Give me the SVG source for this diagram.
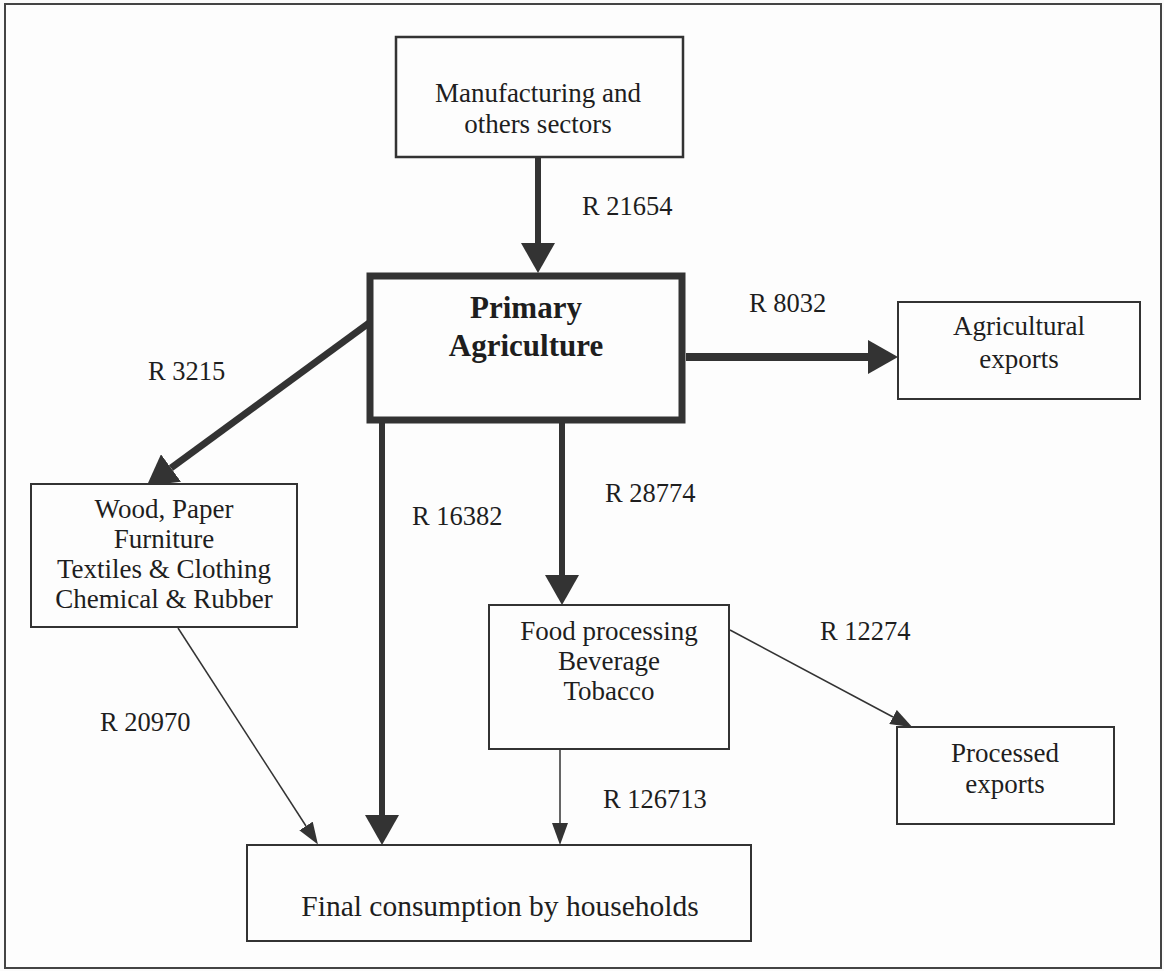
<svg xmlns="http://www.w3.org/2000/svg" width="1164" height="971" viewBox="0 0 1164 971">
<style>
.box{fill:#fdfdfd;stroke:#333;stroke-width:2}
.t{font-family:"Liberation Serif","Times New Roman",serif;font-size:27px;fill:#1e1e1e;text-anchor:middle}
.lbl{font-family:"Liberation Serif","Times New Roman",serif;font-size:26.5px;fill:#1e1e1e}
.thick{stroke:#333;fill:none}
.thin{stroke:#333;stroke-width:1.5;fill:none}
</style>
<defs>
<marker id="big" viewBox="0 -17 30 34" refX="0" refY="0" markerWidth="30" markerHeight="34" markerUnits="userSpaceOnUse" orient="auto"><path d="M0,-17 L30,0 L0,17 z" fill="#333"/></marker>
<marker id="small" viewBox="0 -8 22 16" refX="0" refY="0" markerWidth="22" markerHeight="16" markerUnits="userSpaceOnUse" orient="auto"><path d="M0,-8 L22,0 L0,8 z" fill="#333"/></marker>
</defs>
<rect x="0" y="0" width="1164" height="971" fill="#fbfbfb"/>
<rect x="5" y="4" width="1156" height="964" fill="#fdfdfd" stroke="#444" stroke-width="2"/>
<g id="connectors">
<path class="thick" stroke-width="6" d="M538,157 L538,243" marker-end="url(#big)"/>
<path class="thick" stroke-width="8" d="M686,357 L868,357" marker-end="url(#big)"/>
<path class="thick" stroke-width="7" d="M369,323 L171,468" marker-end="url(#big)"/>
<path class="thick" stroke-width="6" d="M382,423 L382,815" marker-end="url(#big)"/>
<path class="thick" stroke-width="6" d="M562,423 L562,575" marker-end="url(#big)"/>
<path class="thin" d="M178,628 L306,826" marker-end="url(#small)"/>
<path class="thin" d="M730,630 L893,717" marker-end="url(#small)"/>
<path class="thin" d="M560,749 L560,823" marker-end="url(#small)"/>
<text class="lbl" x="582" y="215">R 21654</text>
<text class="lbl" x="749" y="312">R 8032</text>
<text class="lbl" x="148" y="380">R 3215</text>
<text class="lbl" x="605" y="502">R 28774</text>
<text class="lbl" x="412" y="525">R 16382</text>
<text class="lbl" x="820" y="640">R 12274</text>
<text class="lbl" x="100" y="731">R 20970</text>
<text class="lbl" x="603" y="808">R 126713</text>
</g>
<g id="manufacturing">
<rect class="box" x="396" y="37" width="287" height="120" style="stroke-width:2.5"/>
<text class="t" x="538" y="102">Manufacturing and</text>
<text class="t" x="538" y="133">others sectors</text>
</g>
<g id="primary">
<rect x="370" y="276" width="312" height="144" fill="#fdfdfd" stroke="#333" stroke-width="7"/>
<text class="t" x="526" y="318" style="font-weight:bold;font-size:31px">Primary</text>
<text class="t" x="526" y="356" style="font-weight:bold;font-size:31px">Agriculture</text>
</g>
<g id="agri-exports">
<rect class="box" x="898" y="302" width="242" height="97"/>
<text class="t" x="1019" y="335">Agricultural</text>
<text class="t" x="1019" y="368">exports</text>
</g>
<g id="wood">
<rect class="box" x="31" y="484" width="266" height="143"/>
<text class="t" x="164" y="518">Wood, Paper</text>
<text class="t" x="164" y="548">Furniture</text>
<text class="t" x="164" y="578">Textiles &amp; Clothing</text>
<text class="t" x="164" y="608">Chemical &amp; Rubber</text>
</g>
<g id="food">
<rect class="box" x="489" y="605" width="240" height="144"/>
<text class="t" x="609" y="640">Food processing</text>
<text class="t" x="609" y="670">Beverage</text>
<text class="t" x="609" y="700">Tobacco</text>
</g>
<g id="processed-exports">
<rect class="box" x="897" y="727" width="217" height="97"/>
<text class="t" x="1005" y="762">Processed</text>
<text class="t" x="1005" y="793">exports</text>
</g>
<g id="final">
<rect class="box" x="247" y="845" width="504" height="96"/>
<text class="t" x="500" y="916" style="font-size:29.5px">Final consumption by households</text>
</g>
</svg>
